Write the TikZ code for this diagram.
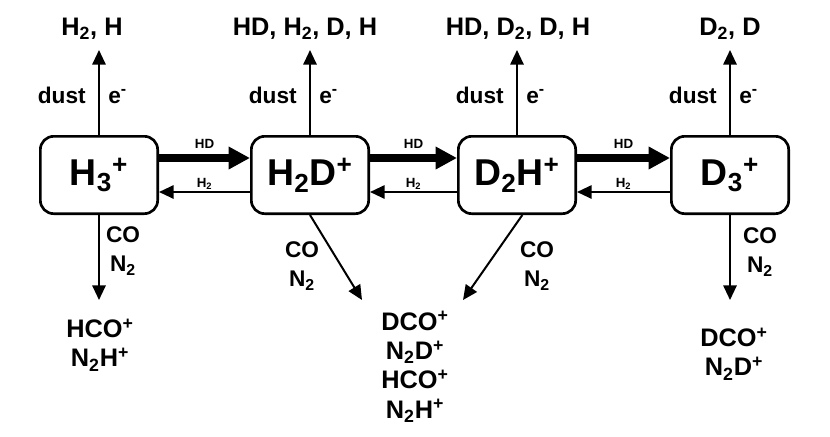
\documentclass[tikz,border=0pt]{standalone}
\usepackage{fontspec}
\setmainfont{Liberation Sans}
\usepackage{tikz}
\usetikzlibrary{arrows.meta,positioning}
\tikzset{
  >={Triangle[length=11pt,width=10pt]},
  ion/.style={rectangle,rounded corners=10pt,draw,line width=2pt,minimum width=88pt,minimum height=58pt,inner sep=0pt,font=\fontsize{28}{32}\selectfont\bfseries},
  species/.style={align=center,inner sep=0pt,font=\fontsize{19}{22}\selectfont\bfseries},
  via/.style={align=center,inner sep=0pt,font=\fontsize{17}{22}\selectfont\bfseries},
  tinylabel/.style={inner sep=1.5pt,font=\fontsize{10}{12}\selectfont\bfseries},
  thinarrow/.style={->,line width=1.5pt},
  thickarrow/.style={-{Triangle[length=16pt,width=16pt]},line width=5.5pt},
}
\begin{document}
\begin{tikzpicture}[x=0.75pt,y=-0.75pt]
  \useasboundingbox (0,0) rectangle (830,436);

  % the four ions
  \node[ion] (h3)  at (99,175)  {H\textsubscript{3}\textsuperscript{+}};
  \node[ion] (h2d) at (310,175) {H\textsubscript{2}D\textsuperscript{+}};
  \node[ion] (d2h) at (517,175) {D\textsubscript{2}H\textsuperscript{+}};
  \node[ion] (d3)  at (730,175) {D\textsubscript{3}\textsuperscript{+}};

  % deuteration chain
  \draw[thickarrow] ([yshift=12.75pt]h3.east)  -- node[tinylabel,above=3pt]{HD} ([yshift=12.75pt]h2d.west);
  \draw[thickarrow] ([yshift=12.75pt]h2d.east) -- node[tinylabel,above=3pt]{HD} ([yshift=12.75pt]d2h.west);
  \draw[thickarrow] ([yshift=12.75pt]d2h.east) -- node[tinylabel,above=3pt]{HD} ([yshift=12.75pt]d3.west);
  \draw[thinarrow] ([yshift=-12.75pt]h2d.west) -- node[tinylabel,above]{H\textsubscript{2}} ([yshift=-12.75pt]h3.east);
  \draw[thinarrow] ([yshift=-12.75pt]d2h.west) -- node[tinylabel,above]{H\textsubscript{2}} ([yshift=-12.75pt]h2d.east);
  \draw[thinarrow] ([yshift=-12.75pt]d3.west)  -- node[tinylabel,above]{H\textsubscript{2}} ([yshift=-12.75pt]d2h.east);

  % recombination products
  \node[species,anchor=base] (up1) at (92,35)  {H\textsubscript{2}, H};
  \node[species,anchor=base] (up2) at (305,35) {HD, H\textsubscript{2}, D, H};
  \node[species,anchor=base] (up3) at (518,35) {HD, D\textsubscript{2}, D, H};
  \node[species,anchor=base] (up4) at (730,35) {D\textsubscript{2}, D};

  \coordinate (t1) at (99,50);
  \coordinate (t2) at (310,50);
  \coordinate (t3) at (517,50);
  \coordinate (t4) at (730,50);
  \draw[thinarrow] (h3.north)  -- (t1);
  \draw[thinarrow] (h2d.north) -- (t2);
  \draw[thinarrow] (d2h.north) -- (t3);
  \draw[thinarrow] (d3.north)  -- (t4);

  \node[via,anchor=base east] (dust1) at (86,103)  {dust};
  \node[via,anchor=base west] (el1)   at (108,103) {e\textsuperscript{-}};
  \node[via,anchor=base east] (dust2) at (297,103) {dust};
  \node[via,anchor=base west] (el2)   at (319,103) {e\textsuperscript{-}};
  \node[via,anchor=base east] (dust3) at (504,103) {dust};
  \node[via,anchor=base west] (el3)   at (526,103) {e\textsuperscript{-}};
  \node[via,anchor=base east] (dust4) at (717,103) {dust};
  \node[via,anchor=base west] (el4)   at (739,103) {e\textsuperscript{-}};

  % proton transfer to CO and N2
  \node[species] (low1)   at (100,345) {HCO\textsuperscript{+}\\N\textsubscript{2}H\textsuperscript{+}};
  \node[species] (lowmid) at (415,367) {DCO\textsuperscript{+}\\N\textsubscript{2}D\textsuperscript{+}\\HCO\textsuperscript{+}\\N\textsubscript{2}H\textsuperscript{+}};
  \node[species] (low4)   at (734,354) {DCO\textsuperscript{+}\\N\textsubscript{2}D\textsuperscript{+}};

  \coordinate (b1) at (99,300);
  \coordinate (b2) at (362,300);
  \coordinate (b3) at (463,300);
  \coordinate (b4) at (730,300);
  \draw[thinarrow] (h3.south)  -- (b1);
  \draw[thinarrow] (h2d.south) -- (b2);
  \draw[thinarrow] ([xshift=4pt]d2h.south) -- (b3);
  \draw[thinarrow] (d3.south)  -- (b4);

  \node[via] (co1) at (123,251) {CO\\N\textsubscript{2}};
  \node[via] (co2) at (302,266) {CO\\N\textsubscript{2}};
  \node[via] (co3) at (537,266) {CO\\N\textsubscript{2}};
  \node[via] (co4) at (760,252) {CO\\N\textsubscript{2}};
\end{tikzpicture}
\end{document}
